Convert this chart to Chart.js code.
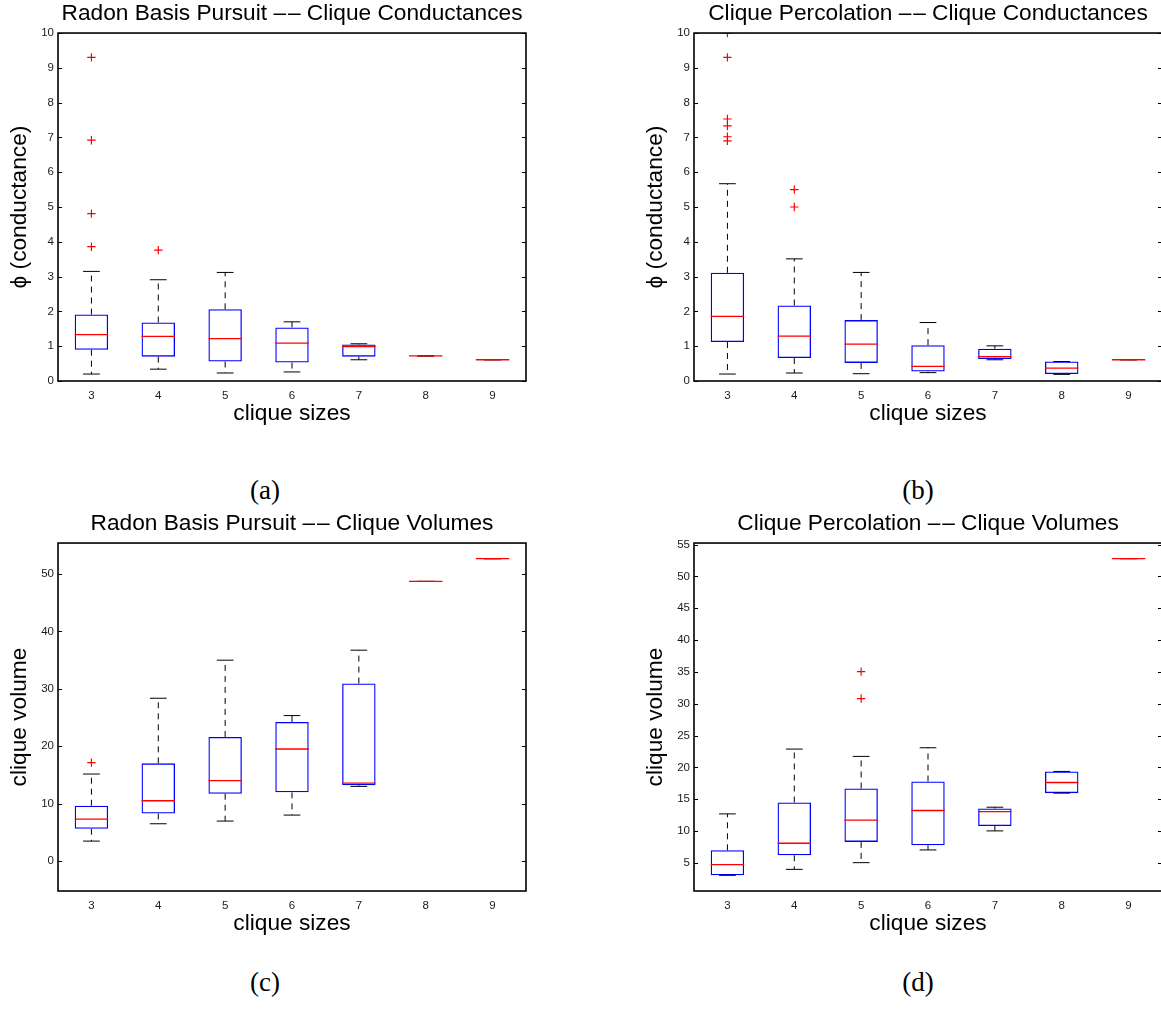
<!DOCTYPE html>
<html>
<head>
<meta charset="utf-8">
<script src="https://cdn.jsdelivr.net/npm/chart.js@4.4.0/dist/chart.umd.min.js"></script>
<style>
    body { margin: 0; background: #fff; overflow: hidden; width: 1161px; height: 1018px; position: relative; }
    .panel { position: absolute; width: 584px; height: 440px; }
    .sub { position: absolute; font-family: "Liberation Serif", serif; font-size: 27px; color: #000; transform: translate(-50%, -50%); }
</style>
</head>
<body>
<div class="panel" style="left:0px;top:0px"><canvas id="chart1" width="584" height="440"></canvas></div>
<div class="panel" style="left:636px;top:0px"><canvas id="chart2" width="584" height="440"></canvas></div>
<div class="panel" style="left:0px;top:510px"><canvas id="chart3" width="584" height="440"></canvas></div>
<div class="panel" style="left:636px;top:510px"><canvas id="chart4" width="584" height="440"></canvas></div>
<div class="sub" style="left:265px;top:490px">(a)</div>
<div class="sub" style="left:918px;top:490px">(b)</div>
<div class="sub" style="left:265px;top:982px">(c)</div>
<div class="sub" style="left:918px;top:982px">(d)</div>
<script>
const sizes = ['3', '4', '5', '6', '7', '8', '9'];

// (a) Radon Basis Pursuit - conductances
const rbpCondLow  = [0.20, 0.34, 0.23, 0.26, 0.61, 0.72, 0.61];
const rbpCondQ1   = [0.90, 0.70, 0.56, 0.53, 0.70, 0.72, 0.61];
const rbpCondMed  = [1.33, 1.28, 1.22, 1.09, 0.99, 0.72, 0.61];
const rbpCondQ3   = [1.91, 1.68, 2.06, 1.54, 1.05, 0.72, 0.61];
const rbpCondHigh = [3.15, 2.91, 3.12, 1.70, 1.07, 0.72, 0.61];
const rbpCondOutX = ['3', '3', '3', '3', '4'];
const rbpCondOutY = [9.30, 6.92, 4.81, 3.86, 3.76];

// (b) Clique Percolation - conductances
const cpCondLow  = [0.20, 0.23, 0.21, 0.24, 0.61, 0.19, 0.61];
const cpCondQ1   = [1.12, 0.66, 0.52, 0.27, 0.63, 0.20, 0.61];
const cpCondMed  = [1.86, 1.29, 1.06, 0.42, 0.70, 0.37, 0.61];
const cpCondQ3   = [3.11, 2.17, 1.75, 1.03, 0.93, 0.56, 0.61];
const cpCondHigh = [5.67, 3.51, 3.12, 1.68, 1.01, 0.56, 0.61];
const cpCondOutX = ['3', '3', '3', '3', '3', '3', '4', '4'];
const cpCondOutY = [10.0, 9.30, 7.53, 7.33, 7.02, 6.90, 5.50, 5.00];

// (c) Radon Basis Pursuit - volumes
const rbpVolLow  = [3.49, 6.51, 6.98, 8.02, 13.02, 48.72, 52.67];
const rbpVolQ1   = [5.64, 8.31, 11.74, 11.98, 13.20, 48.72, 52.67];
const rbpVolMed  = [7.33, 10.52, 14.01, 19.53, 13.60, 48.72, 52.67];
const rbpVolQ3   = [9.65, 17.03, 21.63, 24.24, 30.93, 48.72, 52.67];
const rbpVolHigh = [15.17, 28.37, 35.00, 25.35, 36.74, 48.72, 52.67];
const rbpVolOutX = ['3'];
const rbpVolOutY = [17.15];

// (d) Clique Percolation - volumes
const cpVolLow  = [3.06, 4.00, 5.05, 7.05, 10.04, 15.97, 52.80];
const cpVolQ1   = [3.06, 6.21, 8.31, 7.78, 10.82, 15.97, 52.80];
const cpVolMed  = [4.74, 8.10, 11.72, 13.24, 13.08, 17.64, 52.80];
const cpVolQ3   = [6.99, 14.50, 16.70, 17.80, 13.55, 19.38, 52.80];
const cpVolHigh = [12.71, 22.89, 21.74, 23.10, 13.76, 19.38, 52.80];
const cpVolOutX = ['5', '5'];
const cpVolOutY = [35.06, 30.81];

const condTicks = [0, 1, 2, 3, 4, 5, 6, 7, 8, 9, 10];
const rbpVolTicks = [0, 10, 20, 30, 40, 50];
const cpVolTicks = [5, 10, 15, 20, 25, 30, 35, 40, 45, 50, 55];

const FONT = 'Liberation Sans';
const DASHES = '\u2013\u200a\u2013';

function boxChart(id, title, yTitle, yMin, yMax, yTicks, low, q1, med, q3, high, outX, outY) {
    // whiskers, caps, medians, frame and inward y ticks
    const boxPlugin = {
        id: 'boxParts',
        afterDatasetsDraw(chart) {
            const c = chart.ctx;
            const xs = chart.scales.x;
            const ys = chart.scales.y;
            const area = chart.chartArea;
            const step = xs.getPixelForValue(1) - xs.getPixelForValue(0);
            c.save();
            for (let i = 0; i < sizes.length; i++) {
                const x = xs.getPixelForValue(i);
                c.strokeStyle = '#000';
                c.lineWidth = 1;
                c.setLineDash([6, 5]);
                c.beginPath();
                c.moveTo(x, ys.getPixelForValue(q3[i]));
                c.lineTo(x, ys.getPixelForValue(high[i]));
                c.moveTo(x, ys.getPixelForValue(q1[i]));
                c.lineTo(x, ys.getPixelForValue(low[i]));
                c.stroke();
                c.setLineDash([]);
                c.beginPath();
                c.moveTo(x - step * 0.125, ys.getPixelForValue(high[i]));
                c.lineTo(x + step * 0.125, ys.getPixelForValue(high[i]));
                c.moveTo(x - step * 0.125, ys.getPixelForValue(low[i]));
                c.lineTo(x + step * 0.125, ys.getPixelForValue(low[i]));
                c.stroke();
                c.strokeStyle = 'rgb(255,0,0)';
                c.lineWidth = 1.3;
                c.beginPath();
                c.moveTo(x - step * 0.25, ys.getPixelForValue(med[i]));
                c.lineTo(x + step * 0.25, ys.getPixelForValue(med[i]));
                c.stroke();
            }
            c.strokeStyle = '#000';
            c.lineWidth = 1;
            c.beginPath();
            ys.ticks.forEach(t => {
                const y = Math.round(ys.getPixelForValue(t.value)) + 0.5;
                c.moveTo(area.left, y);
                c.lineTo(area.left + 4, y);
                c.moveTo(area.right - 4, y);
                c.lineTo(area.right, y);
            });
            c.stroke();
            c.lineWidth = 1.6;
            c.strokeRect(area.left, area.top, area.right - area.left, area.bottom - area.top);
            c.restore();
        }
    };

    const ctx = document.getElementById(id);
    new Chart(ctx, {
        type: 'bar',
        data: {
            labels: sizes,
            datasets: [{
                data: q1.map((v, i) => [v, q3[i]]),
                backgroundColor: 'rgba(0,0,0,0)',
                borderColor: 'rgb(0,0,255)',
                borderWidth: 1.3,
                borderSkipped: false,
                barPercentage: 0.5,
                categoryPercentage: 1.0
            }, {
                type: 'scatter',
                data: outX.map((x, i) => ({ x: x, y: outY[i] })),
                pointStyle: 'cross',
                radius: 4.2,
                borderColor: 'rgb(255,0,0)',
                borderWidth: 1.2
            }]
        },
        options: {
            responsive: false,
            animation: { duration: 0 },
            layout: { padding: 0 },
            plugins: {
                legend: { display: false },
                tooltip: { enabled: false },
                title: {
                    display: true,
                    text: title,
                    color: '#000',
                    font: { family: FONT, size: 22.7, weight: 'normal', lineHeight: 1.2 },
                    padding: { top: 0, bottom: 5.8 }
                }
            },
            scales: {
                x: {
                    grid: { display: false, drawTicks: false },
                    border: { display: false },
                    ticks: { color: '#1a1a1a', font: { family: FONT, size: 11.5 }, padding: 8 },
                    title: {
                        display: true,
                        text: 'clique sizes',
                        color: '#000',
                        font: { family: FONT, size: 22.7, lineHeight: 1.2 },
                        padding: { top: 13, bottom: 13 }
                    },
                    afterFit: s => { s.height = 59; }
                },
                y: {
                    min: yMin,
                    max: yMax,
                    grid: { display: false, drawTicks: false },
                    border: { display: false },
                    ticks: { color: '#1a1a1a', font: { family: FONT, size: 11.5 }, padding: 4 },
                    afterBuildTicks: axis => { axis.ticks = yTicks.map(v => ({ value: v })); },
                    title: {
                        display: true,
                        text: yTitle,
                        color: '#000',
                        font: { family: FONT, size: 22.7, lineHeight: 1.2 },
                        padding: { top: 6, bottom: 6 }
                    },
                    afterFit: s => { s.width = 58; }
                },
                yR: {
                    type: 'linear',
                    position: 'right',
                    grid: { display: false, drawTicks: false },
                    border: { display: false },
                    ticks: { display: false },
                    afterFit: s => { s.width = 58; }
                }
            }
        },
        plugins: [boxPlugin]
    });
}

boxChart('chart1', 'Radon Basis Pursuit ' + DASHES + ' Clique Conductances', '\u03d5 (conductance)', 0, 10, condTicks,
    rbpCondLow, rbpCondQ1, rbpCondMed, rbpCondQ3, rbpCondHigh, rbpCondOutX, rbpCondOutY);
boxChart('chart2', 'Clique Percolation ' + DASHES + ' Clique Conductances', '\u03d5 (conductance)', 0, 10, condTicks,
    cpCondLow, cpCondQ1, cpCondMed, cpCondQ3, cpCondHigh, cpCondOutX, cpCondOutY);
boxChart('chart3', 'Radon Basis Pursuit ' + DASHES + ' Clique Volumes', 'clique volume', -5.2, 55.4, rbpVolTicks,
    rbpVolLow, rbpVolQ1, rbpVolMed, rbpVolQ3, rbpVolHigh, rbpVolOutX, rbpVolOutY);
boxChart('chart4', 'Clique Percolation ' + DASHES + ' Clique Volumes', 'clique volume', 0.6, 55.25, cpVolTicks,
    cpVolLow, cpVolQ1, cpVolMed, cpVolQ3, cpVolHigh, cpVolOutX, cpVolOutY);
</script>
</body>
</html>
